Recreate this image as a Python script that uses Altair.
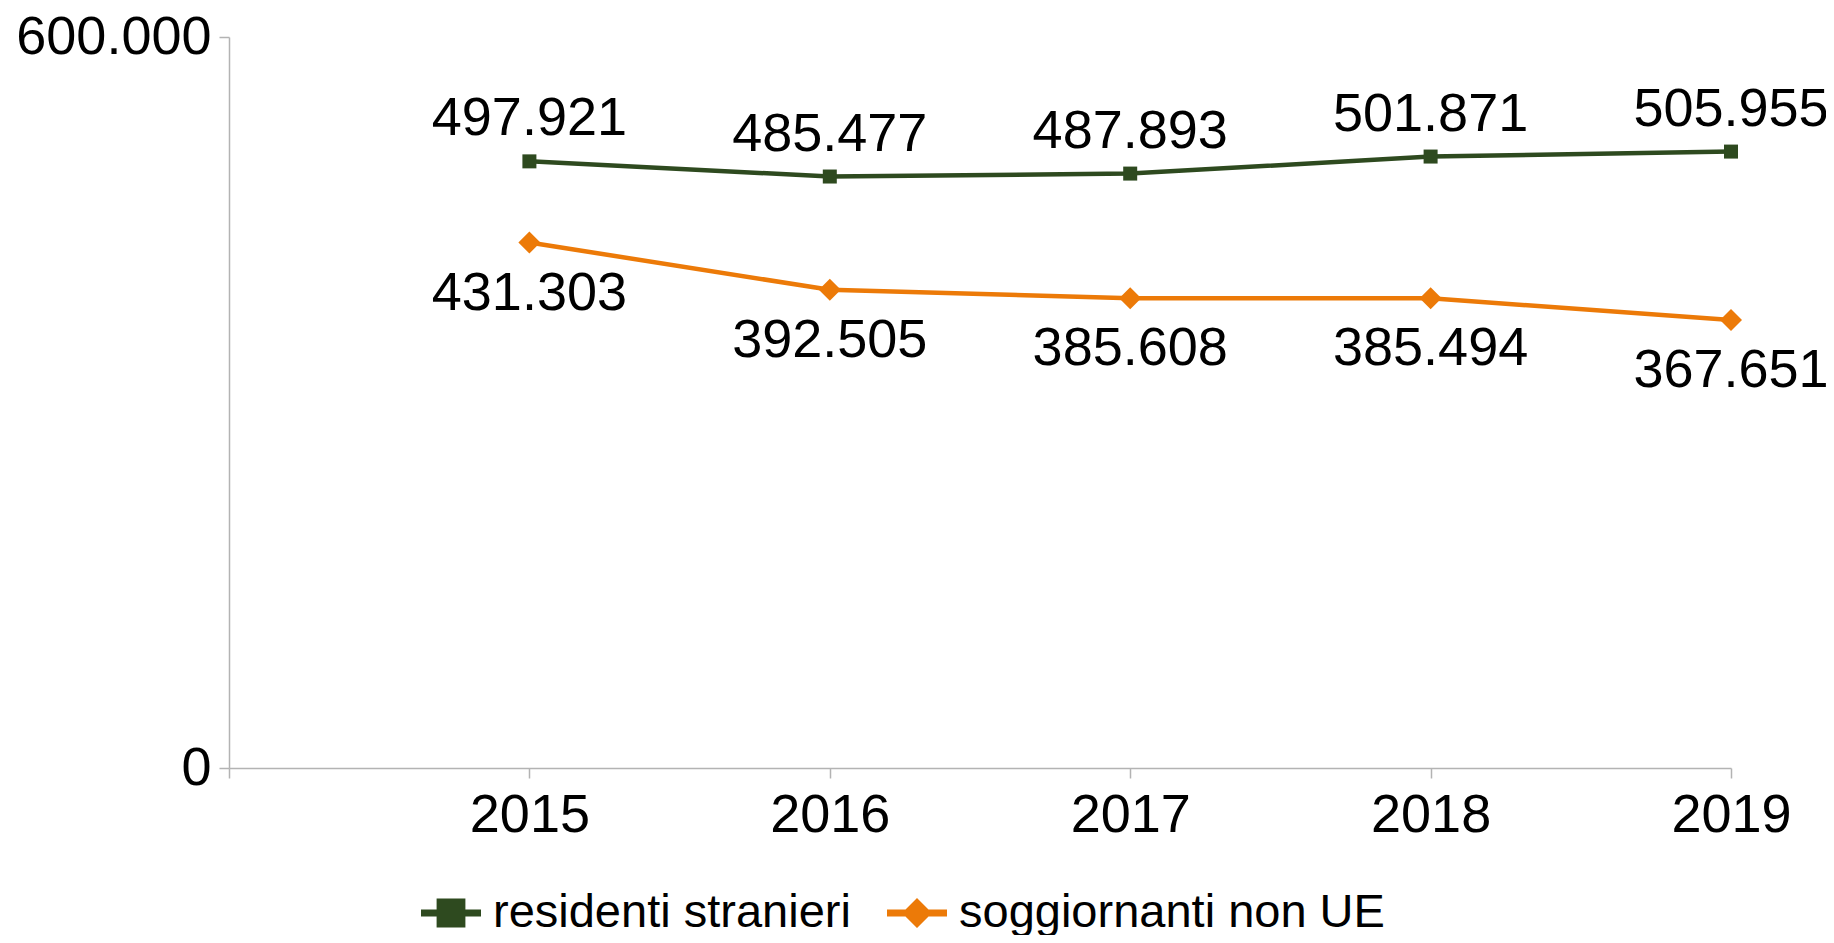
import altair as alt
import pandas as pd

years = [2015, 2016, 2017, 2018, 2019]
residenti = [497921, 485477, 487893, 501871, 505955]
soggiornanti = [431303, 392505, 385608, 385494, 367651]
series_names = ["residenti stranieri", "soggiornanti non UE"]
series_colors = ["#2e4a1f", "#ec7a08"]
marker_shapes = ["square", "diamond"]
legend_paths = [
    "M-1,-0.12H1V0.12H-1Z M-0.48,-0.48H0.48V0.48H-0.48Z",
    "M-1,-0.12H1V0.12H-1Z M-0.5,0L0,-0.5L0.5,0L0,0.5Z",
]
y_ticks = [0, 600000]
x_ticks = [2014, 2015, 2016, 2017, 2018, 2019]

rows = []
for i, vals in enumerate([residenti, soggiornanti]):
    for y, v in zip(years, vals):
        rows.append({
            "year": y,
            "series": series_names[i],
            "value": v,
            "label": f"{v:,}".replace(",", "."),
            "col": series_colors[i],
            "shape": marker_shapes[i],
        })
df = pd.DataFrame(rows)

FONT = "Liberation Sans"

x = alt.X("year:Q", scale=alt.Scale(domain=[2014, 2019], nice=False, zero=False),
          axis=alt.Axis(values=x_ticks, labelExpr="datum.value == 2014 ? '' : datum.value",
                        title=None, grid=False, domainColor="#b3b3b3", tickColor="#b3b3b3",
                        tickSize=10, labelFontSize=54, labelFont=FONT, labelColor="#000000",
                        labelPadding=10, domainWidth=1.5, tickWidth=1.5, labelFlush=False))
y = alt.Y("value:Q", scale=alt.Scale(domain=[0, 600000], nice=False),
          axis=alt.Axis(values=y_ticks, labelExpr="replace(format(datum.value, ','), ',', '.')",
                        title=None, grid=False, domainColor="#b3b3b3", tickColor="#b3b3b3",
                        tickSize=10, labelFontSize=54, labelFont=FONT, labelColor="#000000",
                        labelPadding=8, domainWidth=1.5, tickWidth=1.5, labelLimit=1000))

base = alt.Chart(df)

lines = base.mark_line(strokeWidth=4.5).encode(
    x=x, y=y, color=alt.Color("col:N", scale=None), detail="series:N")

points = base.mark_point(filled=True, opacity=1).encode(
    x=x, y=y,
    color=alt.Color("col:N", scale=None),
    shape=alt.Shape("shape:N", scale=None),
    size=alt.condition("datum.shape == 'square'", alt.value(196), alt.value(484)),
)

legend_layer = base.transform_filter("datum.value < 0").mark_point(filled=True).encode(
    x=x, y=y,
    color=alt.Color("series:N", scale=alt.Scale(domain=series_names, range=series_colors),
                    legend=alt.Legend(title=None, orient="none", direction="horizontal",
                                      legendX=192, legendY=846, labelFontSize=47, labelFont=FONT,
                                      labelColor="#000000", symbolSize=3600, labelOffset=12,
                                      columnPadding=36, symbolStrokeWidth=0, symbolOpacity=1,
                                      labelLimit=1000)),
    shape=alt.Shape("series:N", scale=alt.Scale(domain=series_names, range=legend_paths)),
)

text_top = base.transform_filter(f"datum.series == '{series_names[0]}'").mark_text(
    font=FONT, fontSize=54, color="#000000", baseline="alphabetic", dy=-26).encode(
    x=x, y=y, text="label:N")

text_bottom = base.transform_filter(f"datum.series == '{series_names[1]}'").mark_text(
    font=FONT, fontSize=54, color="#000000", baseline="alphabetic", dy=67).encode(
    x=x, y=y, text="label:N")

chart = alt.layer(lines, points, legend_layer, text_top, text_bottom).properties(
    width=1502, height=731,
    autosize=alt.AutoSizeParams(type="none"),
    padding={"left": 221, "top": 29, "right": 95, "bottom": 167},
).configure_view(stroke=None)

chart.save("out.html", embed_options={"renderer": "svg", "actions": False})
